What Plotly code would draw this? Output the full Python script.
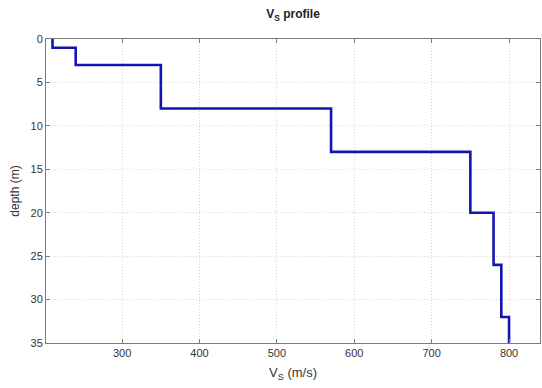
import plotly.graph_objects as go

# Layer model: shear-wave velocity (m/s) and depth to the top of each layer (m)
vs = [210, 240, 350, 570, 750, 780, 790, 800, 800]
layer_top = [0, 1, 3, 8, 13, 20, 26, 32, 35]

x_ticks = [300, 400, 500, 600, 700, 800]
y_ticks = [0, 5, 10, 15, 20, 25, 30, 35]

font_family = "Liberation Sans, Arial, Helvetica, sans-serif"

fig = go.Figure()
fig.add_trace(go.Scatter(
    x=vs, y=layer_top,
    mode="lines",
    line=dict(color="#1414b0", width=2.6, shape="vh"),
    showlegend=False,
    hoverinfo="skip",
))

axis_common = dict(
    showline=True, linecolor="#7a7a7a", linewidth=1, mirror="ticks",
    ticks="inside", ticklen=4, tickcolor="#7a7a7a",
    showgrid=True, gridcolor="#d6d6d6", griddash="1px,2px", gridwidth=1,
    zeroline=False,
    tickfont=dict(family=font_family, size=11, color="#333333"),
)

fig.update_xaxes(
    range=[201.6, 840],
    tickvals=x_ticks,
    title=dict(text="V<sub>S</sub> (m/s)", font=dict(family=font_family, size=13, color="#333333"), standoff=9),
    **axis_common,
)
fig.update_yaxes(
    range=[35, 0],
    tickvals=y_ticks,
    title=dict(text="depth (m)", font=dict(family=font_family, size=12, color="#333333"), standoff=8),
    **axis_common,
)

fig.update_layout(
    width=542, height=388,
    margin=dict(l=46, r=2, t=39, b=45),
    paper_bgcolor="white", plot_bgcolor="white",
    title=dict(
        text="<b>V<sub>S</sub> profile</b>",
        x=(46 + 540) / 2 / 542, xanchor="center",
        y=1 - 14 / 388, yanchor="middle",
        font=dict(family=font_family, size=12, color="#222222"),
    ),
)

fig.write_html("out.html")
